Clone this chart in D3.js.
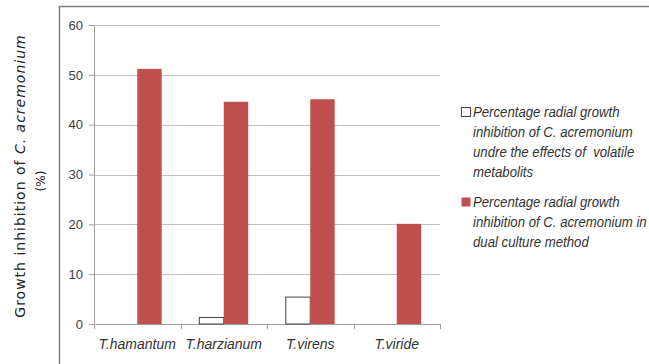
<!DOCTYPE html>
<html>
<head>
<meta charset="utf-8">
<script src="https://cdn.jsdelivr.net/npm/d3@7"></script>
<style>
  body { margin: 0; background: #fff; }
  svg { display: block; }
  .tick-label { font-family: "Liberation Sans", Arial, sans-serif; font-size: 13px; fill: #404040; }
  .cat-label { font-family: "Liberation Sans", sans-serif; font-style: italic; font-size: 14px; fill: #333; }
  .legend-text { font-family: "Liberation Sans", sans-serif; font-style: italic; font-size: 15px; fill: #333; white-space: pre; }
  .axis-title { font-family: "DejaVu Sans", sans-serif; font-size: 14px; fill: #222; }
</style>
</head>
<body>
<div id="chart"></div>
<script>
const species = ['T.hamantum', 'T.harzianum', 'T.virens', 'T.viride'];
const volatileValues = [0, 1.3, 5.4, 0];
const dualCultureValues = [51.2, 44.6, 45.1, 20.1];
const yTicks = [0, 10, 20, 30, 40, 50, 60];
const seriesNames = [
  ['Percentage radial growth', 'inhibition of C. acremonium', 'undre the effects of  volatile', 'metabolits'],
  ['Percentage radial growth', 'inhibition of C. acremonium in', 'dual culture method']
];

const width = 649, height = 364;
const margin = {top: 25, left: 94, right: 209, bottom: 40};
const innerW = width - margin.left - margin.right;
const innerH = height - margin.top - margin.bottom;

const svg = d3.select('#chart').append('svg')
  .attr('width', width)
  .attr('height', height);

// outer frame (runs off the bottom/right edge like the screenshot)
svg.append('rect')
  .attr('x', 59.5).attr('y', 6.5)
  .attr('width', 620).attr('height', 400)
  .attr('fill', 'none')
  .attr('stroke', '#7f7f7f')
  .attr('stroke-width', 1.5);

const chart = svg.append('g')
  .attr('transform', `translate(${margin.left},${margin.top})`);

const y = d3.scaleLinear().domain([0, 60]).range([innerH, 0]);
const x = d3.scaleBand().domain(species).range([0, innerW]).paddingInner(0.435).paddingOuter(0.2175);
const x1 = d3.scaleBand().domain(['volatile', 'dual']).range([0, x.bandwidth()]);

// gridlines
chart.selectAll('.grid')
  .data(yTicks.filter(d => d > 0))
  .join('line')
  .attr('class', 'grid')
  .attr('x1', 0).attr('x2', innerW)
  .attr('y1', d => Math.round(y(d)) + 0.5).attr('y2', d => Math.round(y(d)) + 0.5)
  .attr('stroke', '#c0c0c0');

// y axis
const yAxis = chart.append('g')
  .call(d3.axisLeft(y).tickValues(yTicks).tickSize(5).tickPadding(6));
yAxis.select('.domain').attr('stroke', '#a0a0a0');
yAxis.selectAll('.tick line').attr('stroke', '#a0a0a0');
yAxis.selectAll('.tick text').attr('class', 'tick-label').attr('fill', null).style('font-size', null).style('font-family', null);

// x axis
const xAxis = chart.append('g')
  .attr('transform', `translate(0,${innerH})`)
  .call(d3.axisBottom(x).tickSize(0).tickPadding(15));
xAxis.select('.domain').attr('stroke', '#a0a0a0');
xAxis.selectAll('.tick text').attr('class', 'cat-label').attr('fill', null);
// category boundary tick marks
const step = x.step();
chart.selectAll('.xtick')
  .data(d3.range(species.length + 1))
  .join('line')
  .attr('class', 'xtick')
  .attr('x1', i => Math.round(i * step) + 0.5)
  .attr('x2', i => Math.round(i * step) + 0.5)
  .attr('y1', innerH).attr('y2', innerH + 5)
  .attr('stroke', '#a0a0a0');

// bars
const groups = chart.selectAll('.group')
  .data(species)
  .join('g')
  .attr('class', 'group')
  .attr('transform', d => `translate(${x(d)},0)`);

groups.append('rect')
  .attr('x', x1('volatile'))
  .attr('width', x1.bandwidth())
  .attr('y', (d, i) => y(volatileValues[i]))
  .attr('height', (d, i) => innerH - y(volatileValues[i]))
  .attr('fill', '#fff')
  .attr('stroke', (d, i) => volatileValues[i] > 0 ? '#404040' : 'none')
  .attr('stroke-width', 1);

groups.append('rect')
  .attr('x', x1('dual'))
  .attr('width', x1.bandwidth())
  .attr('y', (d, i) => y(dualCultureValues[i]))
  .attr('height', (d, i) => innerH - y(dualCultureValues[i]))
  .attr('fill', '#c0504d');

// y axis title
const title = svg.append('text')
  .attr('class', 'axis-title')
  .attr('transform', 'translate(25,176) rotate(-90)')
  .attr('text-anchor', 'middle')
  .style('letter-spacing', '1px');
title.append('tspan').text('Growth inhibition of ');
title.append('tspan').style('font-style', 'italic').text('C. acremonium');
svg.append('text')
  .attr('class', 'axis-title')
  .attr('transform', 'translate(45,181) rotate(-90)')
  .attr('text-anchor', 'middle')
  .style('font-size', '12px')
  .text('(%)');

// legend
const legendY = [112, 202];
seriesNames.forEach((lines, si) => {
  const g = svg.append('g').attr('transform', `translate(461,${legendY[si]})`);
  g.append('rect')
    .attr('x', 0.5).attr('y', -4.5)
    .attr('width', 9).attr('height', 9)
    .attr('fill', si === 0 ? '#fff' : '#c0504d')
    .attr('stroke', si === 0 ? '#404040' : 'none');
  // condensed italic text, squeezed horizontally
  const tg = g.append('g').attr('transform', 'translate(12,0) scale(0.88,1)');
  tg.selectAll('text')
    .data(lines)
    .join('text')
    .attr('class', 'legend-text')
    .attr('x', 0)
    .attr('y', (d, i) => i * 20)
    .attr('dy', '0.35em')
    .text(d => d);
});
</script>
</body>
</html>
